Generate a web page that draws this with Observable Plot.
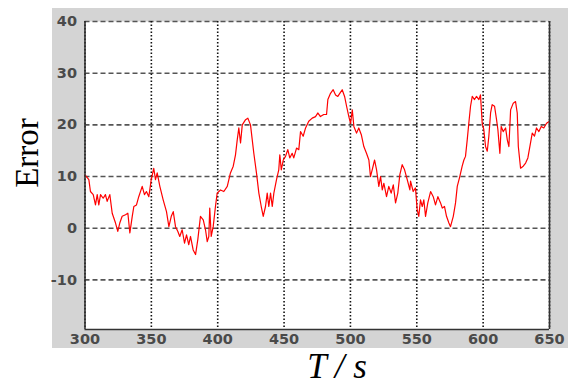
<!DOCTYPE html>
<html>
<head>
<meta charset="utf-8">
<script src="https://cdn.jsdelivr.net/npm/d3@7"></script>
<script src="https://cdn.jsdelivr.net/npm/@observablehq/plot@0.6"></script>
<style>
  html, body { margin: 0; padding: 0; background: #fff; }
  #wrap { position: relative; width: 568px; height: 385px; overflow: hidden; background: #fff; }
  #chart { position: absolute; left: 52px; top: 8px; }
  #chart svg { background: #d4d4d4; display: block; }
  .ylab { position: absolute; left: 27px; top: 153px; transform: translate(-50%, -50%) rotate(-90deg);
          font-family: "Liberation Serif", "Times New Roman", serif; font-size: 33px; color: #000; white-space: nowrap; }
  .xlab { position: absolute; left: 337px; top: 366px; transform: translate(-50%, -50%);
          font-family: "Liberation Serif", "Times New Roman", serif; font-style: italic; font-size: 35px; color: #000; white-space: nowrap; line-height: 1; }
</style>
</head>
<body>
<div id="wrap">
  <div id="chart"></div>
  <div class="ylab">Error</div>
  <div class="xlab">T / s</div>
</div>
<script>
// Time (s) and error values
const time = [300,302.9,304.1,306.2,307.9,309.2,310.4,311.7,313.7,315.4,316.7,318.7,320.5,323,324.7,326.2,328,330.5,332.3,333.8,335.6,336.8,338.8,340.5,343.1,344.8,346.3,348.1,349.9,351.8,353.1,354.4,356.4,358.9,361.4,363.2,365,366.5,368.2,369.9,371.4,373.2,375,376.5,378.2,379.5,381.5,383.3,385,387,389.1,390.8,392.1,393.3,394,395.1,396.6,398.3,399.6,402.1,404.6,407.2,409.6,411.7,413.4,414.7,415.9,417.2,418.5,421,
  422.7,424.7,427.2,429.2,431,432.8,434.3,436,437.3,438.5,439.8,441.1,442.3,444.3,446,446.8,447.9,449.4,451.1,452.8,454.3,456.1,457.3,459.4,461.1,462.4,464.4,466.2,468.6,471.2,473.7,475.4,477.4,479.9,482,483,485,487,488.8,490.5,492,493.8,495.6,497.1,498.8,500.1,501.4,502.6,504.6,506.3,508.2,510.1,512.1,513.9,515.1,516.4,518.2,519.7,521.4,522.7,524,525.2,527.2,528.9,530.7,532.3,534,535.7,537.2,539,540.8,542.8,544.8,
  545.3,547.3,549,550.3,551.5,552.8,554.1,555.3,556.6,558.3,560.4,562.4,564.1,565.9,567.9,569.2,570.9,572.4,574.2,575.4,577.5,579.2,580.5,582.4,584.2,585.5,586.7,588,589.2,590.5,591.8,593.5,595,596.8,598,599.3,600.5,601.8,603.1,604.3,605.6,606.8,608.6,610.1,611.1,612.6,613.6,615.1,616.9,618.2,619.4,620.7,622.7,624.4,625.7,626.5,628.2,630.2,632,633.7,635.2,637,638.7,640.2,642,643.8,645.7,647.8,650];
const error = [10.3,9.4,7.1,6.5,4.5,6.5,4.5,6.5,5.8,6.5,5.2,6.5,2.9,1.0,-0.6,1.0,2.3,2.6,2.9,-0.9,2.3,4.2,4.5,6.1,8.1,6.5,7.1,6.1,9.4,11.6,9.4,10.7,8.1,5.5,3.2,0.3,2.3,3.2,0.3,-0.6,-1.6,-0.3,-2.9,-1.3,-3.2,-1.6,-4.2,-5.1,-2.2,2.3,1.6,-0.3,-2.6,-1.6,3.9,-1.6,0.3,4.2,6.8,7.4,7.1,8.1,10.7,12,14.2,17.1,19.4,16.5,20,21,
  21.3,20,14.5,10.7,6.8,4.2,2.3,4.2,6.8,4.2,6.8,4.2,6.8,9.4,11.3,14.2,11.3,13.2,13.9,15.2,13.6,14.5,13.6,15.5,15.2,18.7,17.8,19.4,20.7,21.3,21.6,22.3,21.6,22,22,24.9,26.1,26.8,25.8,25.5,26.1,26.8,25.5,23.6,21.6,20.3,22.9,19.7,18.4,19.4,18.1,15.8,14.5,13.2,10,11.3,13.2,11.3,8.1,10,7.4,8.7,6.1,8.1,6.8,8.4,4.9,6.8,10.3,12.3,11.3,9.4,7.4,
  9.1,7.1,7.8,3.6,2.3,5.5,4.2,5.5,2.3,4.9,7.1,6.1,4.5,6.1,4.9,3.9,4.2,2.3,1.0,0.3,2.3,4.9,8.1,10,12,13.2,13.9,17.1,20.3,23.6,25.5,24.9,25.5,24.9,25.8,20.3,19.1,15.8,14.9,17.8,22.3,23.9,23.6,21,19.1,14.5,19.7,18.7,19.4,17.1,15.8,22.9,24.2,24.5,22.3,15.8,11.6,12,12.6,13.6,15.8,18.4,17.8,19.4,18.7,19.7,19.4,20.3,20.7];
const xTicks = [300,350,400,450,500,550,600,650];
const yTicks = [-10,0,10,20,30,40];
const xDomain = [300, 650];
const yDomain = [-19.6, 40];

const data = time.map((t, i) => ({t, e: error[i]}));

const chart = Plot.plot({
  width: 516,
  height: 340,
  marginLeft: 32.5,
  marginRight: 19,
  marginTop: 13,
  marginBottom: 19,
  style: {fontFamily: "DejaVu Sans, Verdana, sans-serif", fontSize: "14.5px", fontWeight: "bold", color: "#4a4a4a", overflow: "visible"},
  x: {domain: xDomain, label: null},
  y: {domain: yDomain, label: null},
  marks: [
    Plot.frame({fill: "white", stroke: null}),
    Plot.ruleY(yTicks, {stroke: "#555", strokeWidth: 1.6, strokeDasharray: "5,3"}),
    Plot.ruleX(xTicks, {stroke: "#111", strokeWidth: 1.6, strokeDasharray: "1.5,2"}),
    Plot.line(data, {x: "t", y: "e", stroke: "#ff0000", strokeWidth: 1.2}),
    Plot.ruleX(xDomain, {stroke: "#333", strokeWidth: 1.6}),
    Plot.ruleY([yDomain[0]], {stroke: "#333", strokeWidth: 1.6}),
    Plot.axisX({ticks: xTicks, tickSize: 0, tickPadding: 4, tickFormat: d => String(d), label: null}),
    Plot.axisY({ticks: yTicks, tickSize: 0, tickPadding: 8, tickFormat: d => String(d), label: null})
  ]
});
document.getElementById("chart").appendChild(chart);
</script>
</body>
</html>
